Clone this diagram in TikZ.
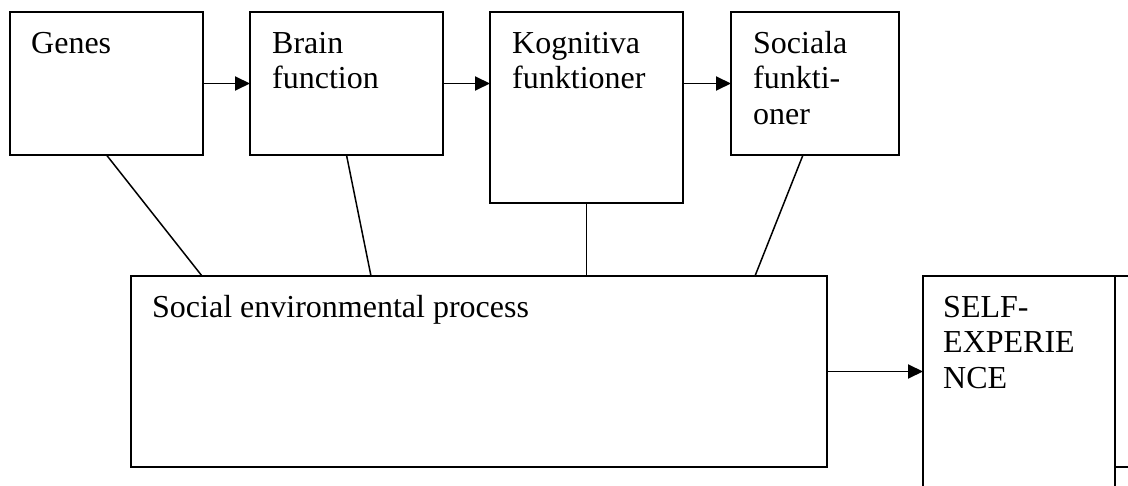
\documentclass[tikz,border=0pt]{standalone}
\usepackage{fontspec}
\setmainfont{Liberation Serif}
\usetikzlibrary{arrows.meta,calc}
\begin{document}
\begin{tikzpicture}[x=1pt,y=-1pt,
  box/.style={draw, line width=1.9pt, rectangle, inner sep=0pt, outer sep=0pt, anchor=north west},
  lbl/.style={anchor=north west, inner sep=0pt, align=left, font=\fontsize{32}{35.5}\selectfont},
  link/.style={line width=1.5pt},
  flow/.style={line width=1.9pt, -{Triangle[length=15pt,width=14pt]}}
]
\useasboundingbox (0,0) rectangle (1128,486);
\clip (0,0) rectangle (1128,486);
% boxes
\node[box, minimum width=193, minimum height=143] (genes) at (10,12) {};
\node[box, minimum width=193, minimum height=143] (brain) at (250,12) {};
\node[box, minimum width=193, minimum height=191] (kog) at (490,12) {};
\node[box, minimum width=168, minimum height=143] (soc) at (731,12) {};
\node[box, minimum width=696, minimum height=191] (env) at (131,276) {};
\node[box, minimum width=192, minimum height=240] (self) at (923,276) {};
\node[box, minimum width=40, minimum height=191] (cell) at (1115,276) {};
\node[box, minimum width=40, minimum height=60] (cellb) at (1115,467) {};
% labels
\node[lbl] (tgenes) at (31,28.15) {\strut Genes};
\node[lbl] (tbrain) at (272,28.15) {\strut Brain\\function};
\node[lbl] (tkog) at (512,28.15) {\strut Kognitiva\\funktioner};
\node[lbl] (tsoc) at (753,28.15) {\strut Sociala\\funkti-\\oner};
\node[lbl] (tenv) at (152,292.15) {\strut Social environmental process};
\node[lbl] (tself) at (943,292.15) {\strut SELF-\\EXPERIE\\NCE};
% links to the environment box
\coordinate (e1) at ($(env.north west)+(71,0)$);
\coordinate (e2) at ($(env.north west)+(240,0)$);
\coordinate (e4) at ($(env.north west)+(624,0)$);
\coordinate (s4) at ($(soc.south west)+(72,0)$);
\draw[link] (genes.south) -- (e1);
\draw[link] (brain.south) -- (e2);
\draw[link] (kog.south) -- (kog.south |- env.north);
\draw[link] (s4) -- (e4);
% arrows
\draw[flow] (genes.east) -- (brain.west);
\draw[flow] (brain.east) -- (brain.east -| kog.west);
\draw[flow] (kog.east |- soc.west) -- (soc.west);
\draw[flow] (env.east) -- (env.east -| self.west);
\end{tikzpicture}
\end{document}
